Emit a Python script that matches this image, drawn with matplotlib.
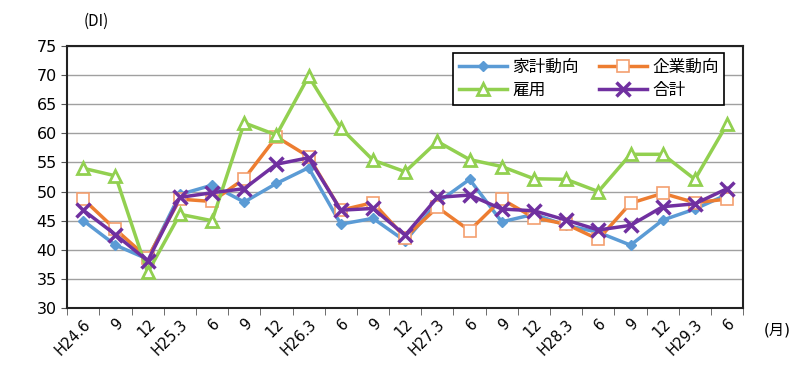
import matplotlib
matplotlib.use('Agg')
import matplotlib.pyplot as plt

plt.rcParams['font.family'] = ['DejaVu Sans', 'Noto Sans CJK JP']

labels = ['H24.6', '9', '12', 'H25.3', '6', '9', '12', 'H26.3', '6', '9', '12',
          'H27.3', '6', '9', '12', 'H28.3', '6', '9', '12', 'H29.3', '6']

kakei = [45.0, 40.8, 38.4, 49.5, 51.1, 48.2, 51.4, 54.1, 44.4, 45.4, 41.5,
         48.1, 52.1, 44.8, 46.1, 44.2, 43.0, 40.8, 45.1, 47.0, 49.5]
kigyo = [48.7, 43.5, 38.6, 48.7, 48.3, 52.2, 59.4, 56.0, 46.8, 48.1, 42.1,
         47.3, 43.3, 48.7, 45.5, 44.4, 41.8, 48.0, 49.7, 48.1, 48.7]
koyo = [54.0, 52.7, 36.1, 46.1, 45.0, 61.8, 59.7, 69.8, 60.9, 55.4, 53.4,
        58.6, 55.5, 54.3, 52.2, 52.1, 50.0, 56.4, 56.4, 52.1, 61.6]
gokei = [46.8, 42.6, 38.1, 49.0, 49.8, 50.5, 54.7, 55.8, 46.8, 47.1, 42.5,
         49.0, 49.4, 47.0, 46.7, 45.1, 43.4, 44.2, 47.4, 47.9, 50.5]

x = list(range(len(labels)))

fig = plt.figure(figsize=(8, 3.68), dpi=100)
ax = fig.add_axes([0.084, 0.163, 0.845, 0.712])

l1, = ax.plot(x, kakei, color='#5B9BD5', lw=2.5, marker='D', ms=5.5, label='家計動向', zorder=3)
l2, = ax.plot(x, kigyo, color='#ED7D31', lw=2.5, marker='s', ms=9, mfc='white',
              mec='#F4A070', mew=1.2, label='企業動向', zorder=3)
l3, = ax.plot(x, koyo, color='#92D050', lw=2.5, marker='^', ms=8.5, mfc='white',
              mec='#92D050', mew=2, label='雇用', zorder=3)
l4, = ax.plot(x, gokei, color='#7030A0', lw=2.5, marker='x', ms=10, mew=2.5,
              label='合計', zorder=4)

ax.set_xlim(-0.5, len(labels) - 0.5)
ax.set_ylim(30, 75)
ax.set_yticks(range(30, 80, 5))
ax.tick_params(axis='y', labelsize=11.5, length=4, color='#555555')
ax.yaxis.grid(True, color='#A0A0A0', lw=1)
ax.set_axisbelow(True)

ax.set_xticks(x)
ax.set_xticklabels(labels, rotation=45, ha='right', rotation_mode='anchor', fontsize=10.5)
ax.tick_params(axis='x', which='major', length=0, pad=6)
ax.set_xticks([i - 0.5 for i in range(len(labels) + 1)], minor=True)
ax.tick_params(axis='x', which='minor', length=5, color='#555555')

for s in ax.spines.values():
    s.set_color('#222222')
    s.set_linewidth(1.5)

# row-wise order: 家計動向 企業動向 / 雇用 合計
leg = ax.legend([l1, l3, l2, l4], ['家計動向', '雇用', '企業動向', '合計'],
                ncol=2, loc='upper right', bbox_to_anchor=(0.972, 0.975),
                borderaxespad=0,
                prop={'family': ['Noto Sans CJK JP'], 'size': 12},
                fancybox=False, edgecolor='black', framealpha=1,
                handlelength=2.9, columnspacing=1.2, borderpad=0.35,
                labelspacing=0.4, handletextpad=0.3)
leg.get_frame().set_linewidth(1.2)

fig.text(0.105, 0.93, '(DI)', fontsize=11, family=['Noto Sans CJK JP'])
fig.text(0.955, 0.09, '(月)', fontsize=11)

fig.savefig('out.png', dpi=100)
